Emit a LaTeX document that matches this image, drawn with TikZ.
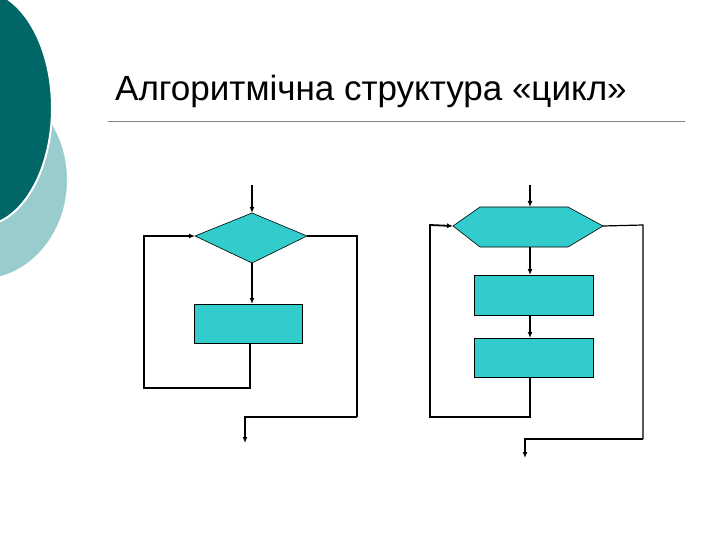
\documentclass[tikz,border=0pt]{standalone}
\usepackage{fontspec}
\setmainfont{Liberation Sans}
\usetikzlibrary{arrows.meta}
\definecolor{fillc}{HTML}{33CCCC}
\definecolor{darkt}{HTML}{006666}
\definecolor{lightt}{HTML}{99CCCC}
\begin{document}
\begin{tikzpicture}[x=1pt,y=-1pt,
  ln/.style={line width=1.8pt},
  thin/.style={line width=1.2pt},
  arr/.style={-{Latex[length=6pt,width=5pt]}},
  shp/.style={fill=fillc,draw=black,line width=0.6pt}]
\useasboundingbox (0,0) rectangle (720,540);
\begin{scope}
\clip (0,0) rectangle (720,540);
\fill[lightt,draw=white,line width=2pt] (-20,180) ellipse [x radius=88, y radius=100];
\fill[darkt,draw=white,line width=2pt] (-20,108) ellipse [x radius=72, y radius=118];
\end{scope}
\node[anchor=base west,inner sep=0,font=\fontsize{35}{40}\selectfont] (title) at (115,101) {Алгоритмічна структура «цикл»};
\draw[gray,line width=0.6pt] (108,121) -- (685,121);
% left
\path[shp] (195,236) -- (252,213) -- (307,236) -- (252,263) -- cycle;
\coordinate (dt) at (252,213); \coordinate (dl) at (195,236); \coordinate (dr) at (307,236); \coordinate (db) at (252,263);
\node[shp,minimum width=108pt,minimum height=39pt,inner sep=0] (r1) at (248,323.5) {};
\coordinate (s1) at (252,185);
\draw[ln,arr] (s1) -- (dt);
\draw[ln,arr] (db) -- (252,304);
\draw[ln,arr] (250,343) -- (250,388) -| (144,236) -- (dl);
\coordinate (e1) at (245,443);
\draw[ln] (dr) -- (357,236) -- (357,417);
\draw[thin,arr] (357,417) -- (245,417) -- (e1);
% right
\coordinate (ht) at (530,207); \coordinate (hl) at (453,226); \coordinate (hr) at (603,226); \coordinate (hb) at (530,247);
\path[shp] (453,226) -- (480,207) -- (568,207) -- (603,226) -- (568,247) -- (480,247) -- cycle;
\node[shp,minimum width=119pt,minimum height=40pt,inner sep=0] (r2) at (533.5,295) {};
\node[shp,minimum width=119pt,minimum height=39pt,inner sep=0] (r3) at (533.5,357.5) {};
\coordinate (s2) at (530,185);
\draw[ln,arr] (s2) -- (ht);
\draw[ln,arr] (hb) -- (530,275);
\draw[ln,arr] (530,315) -- (530,338);
\draw[ln,arr] (530,377) -- (530,417) -- (430,417) -- (430,225) -- (hl);
\coordinate (e2) at (525,458);
\draw[thin] (hr) -- (643,225) -- (643,439);
\draw[ln,arr] (643,439) -- (525,439) -- (e2);
\end{tikzpicture}
\end{document}
